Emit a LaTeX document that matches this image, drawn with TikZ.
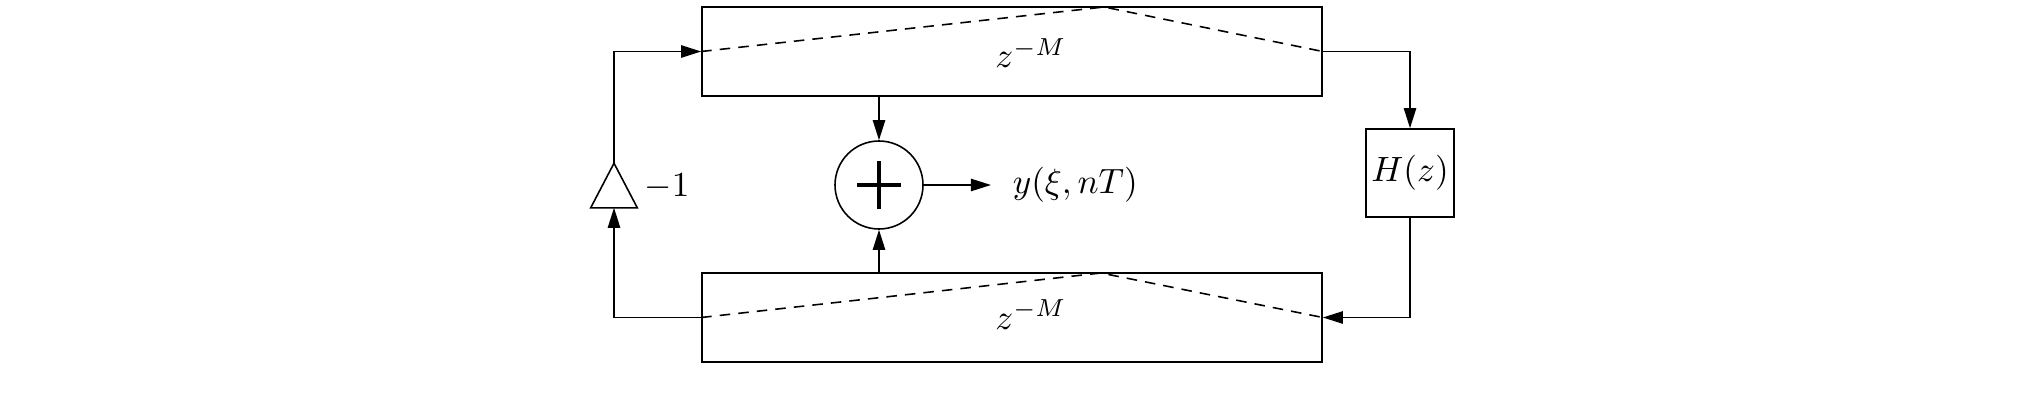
\documentclass[tikz,border=0pt]{standalone}
\usetikzlibrary{arrows.meta,calc}
\begin{document}
\begin{tikzpicture}[
  line width=0.45pt,
  delaybox/.style={draw, rectangle, minimum width=6.20cm, minimum height=0.89cm, inner sep=0pt},
  hbox/.style={draw, rectangle, minimum width=0.88cm, minimum height=0.88cm, inner sep=0pt},
  sumnode/.style={draw, circle, minimum size=0.88cm, inner sep=0pt},
  arr/.style={-{Triangle[length=5.7pt,width=3.5pt]}},
  dsh/.style={dash pattern=on 3pt off 2.3pt},
  plusbar/.style={line width=1.3pt}
]
\useasboundingbox (0,0) rectangle (20.44,4.01);

% delay lines
\node[delaybox] (top) at (10.12,3.495) {};
\node[delaybox] (bot) at (10.12,0.835) {};
\node[anchor=base, inner sep=0pt] (toplab) at (10.31,3.33) {$z^{-M}$};
\node[anchor=base, inner sep=0pt] (botlab) at (10.31,0.72) {$z^{-M}$};
\coordinate (toppeak) at (11.04,3.94);
\coordinate (botpeak) at (11.01,1.28);
\draw[dsh] (top.west) -- (toppeak) -- (top.east);
\draw[dsh] (bot.west) -- (botpeak) -- (bot.east);

% summer
\node[sumnode] (sum) at (8.79,2.16) {};
\draw[plusbar] ($(sum.center)+(-0.22,0)$) -- ($(sum.center)+(0.22,0)$);
\draw[plusbar] ($(sum.center)+(0,-0.235)$) -- ($(sum.center)+(0,0.235)$);
\coordinate (out) at (9.91,2.16);
\node[anchor=west, inner sep=0pt] (ylab) at (10.12,2.16) {$y(\xi,nT)$};

% gain
\node[rectangle, minimum width=0.45cm, minimum height=0.43cm, inner sep=0pt] (gain) at (6.14,2.155) {};
\draw (gain.south west) -- (gain.north) -- (gain.south east) -- cycle;
\node[inner sep=0pt] (gainlab) at (6.67,2.14) {$-1$};

% filter
\node[hbox] (H) at (14.10,2.28) {$H(z)$};

% connectors
\draw[arr] (top.east) -| (H.north);
\draw[arr] (H.south) |- (bot.east);
\draw[arr] (bot.west) -| (gain.south);
\draw[arr] (gain.north) |- (top.west);
\draw[arr] (sum.north |- top.south) -- (sum.north);
\draw[arr] (sum.south |- bot.north) -- (sum.south);
\draw[arr] (sum.east) -- (out);
\end{tikzpicture}
\end{document}
